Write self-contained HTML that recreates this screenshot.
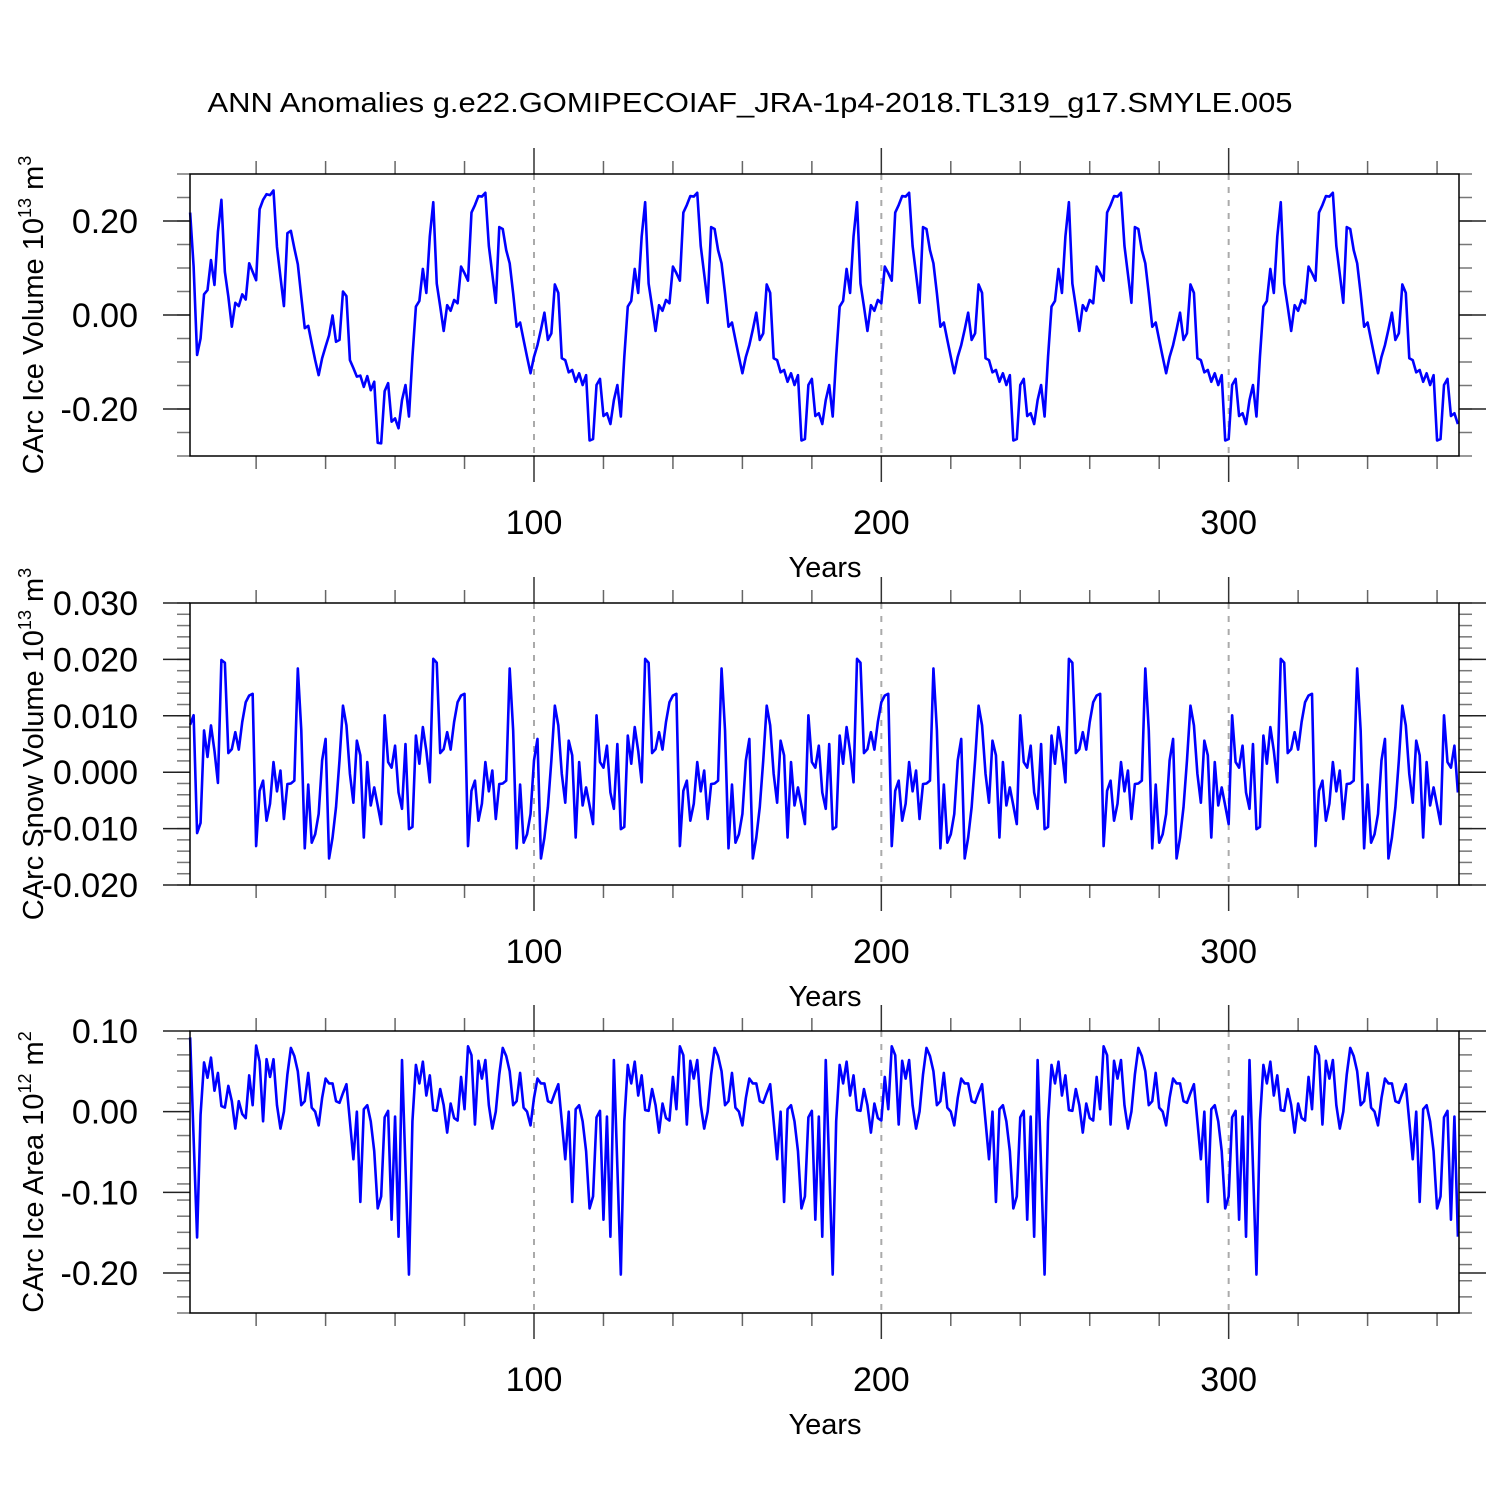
<!DOCTYPE html>
<html><head><meta charset="utf-8"><style>
html,body{margin:0;padding:0;background:#fff;}
svg{display:block;font-family:"Liberation Sans",Arial,sans-serif;}
</style></head><body>
<svg id="chart" width="1500" height="1500" viewBox="0 0 1500 1500" xmlns="http://www.w3.org/2000/svg">
<rect width="1500" height="1500" fill="#fff"/>
<text x="750" y="112" font-size="28" text-anchor="middle" textLength="1085" lengthAdjust="spacingAndGlyphs">ANN Anomalies g.e22.GOMIPECOIAF_JRA-1p4-2018.TL319_g17.SMYLE.005</text>
</svg>
<script>
const xMajorTicks = [100, 200, 300];
const xMajorLabels = ["100", "200", "300"];

const volTicks = [-0.2, 0.0, 0.2];
const volTickLabels = ["-0.20", "0.00", "0.20"];
const snowTicks = [-0.02, -0.01, 0.0, 0.01, 0.02, 0.03];
const snowTickLabels = ["-0.020", "-0.010", "0.000", "0.010", "0.020", "0.030"];
const areaTicks = [-0.2, -0.1, 0.0, 0.1];
const areaTickLabels = ["-0.20", "-0.10", "0.00", "0.10"];

const iceVolume = [
0.218,0.103,-0.085,-0.050,0.044,0.053,0.117,0.064,0.177,0.245,0.092,0.039,-0.025,0.026,0.019,0.044,0.033,0.110,0.092,0.074,0.225,0.245,0.257,0.255,0.265,0.145,0.081,0.019,0.174,0.179,0.142,0.108,0.039,-0.028,-0.023,-0.060,-0.096,-0.128,-0.092,-0.067,-0.043,-0.001,-0.057,-0.053,0.050,0.040,-0.096,-0.113,-0.131,-0.129,-0.153,-0.130,-0.160,-0.142,-0.272,-0.273,-0.162,-0.145,-0.227,-0.220,-0.241,
-0.181,-0.149,-0.216,-0.089,0.018,0.030,0.098,0.047,0.167,0.240,0.067,0.018,-0.034,0.021,0.009,0.032,0.025,0.103,0.089,0.073,0.218,0.234,0.253,0.252,0.260,0.147,0.087,0.026,0.187,0.183,0.138,0.110,0.046,-0.025,-0.016,-0.053,-0.089,-0.124,-0.089,-0.064,-0.031,0.005,-0.053,-0.039,0.065,0.047,-0.092,-0.096,-0.122,-0.117,-0.142,-0.124,-0.149,-0.128,-0.267,-0.264,-0.149,-0.136,-0.215,-0.209,-0.232,
-0.181,-0.149,-0.216,-0.089,0.018,0.030,0.098,0.047,0.167,0.240,0.067,0.018,-0.034,0.021,0.009,0.032,0.025,0.103,0.089,0.073,0.218,0.234,0.253,0.252,0.260,0.147,0.087,0.026,0.187,0.183,0.138,0.110,0.046,-0.025,-0.016,-0.053,-0.089,-0.124,-0.089,-0.064,-0.031,0.005,-0.053,-0.039,0.065,0.047,-0.092,-0.096,-0.122,-0.117,-0.142,-0.124,-0.149,-0.128,-0.267,-0.264,-0.149,-0.136,-0.215,-0.209,-0.232,
-0.181,-0.149,-0.216,-0.089,0.018,0.030,0.098,0.047,0.167,0.240,0.067,0.018,-0.034,0.021,0.009,0.032,0.025,0.103,0.089,0.073,0.218,0.234,0.253,0.252,0.260,0.147,0.087,0.026,0.187,0.183,0.138,0.110,0.046,-0.025,-0.016,-0.053,-0.089,-0.124,-0.089,-0.064,-0.031,0.005,-0.053,-0.039,0.065,0.047,-0.092,-0.096,-0.122,-0.117,-0.142,-0.124,-0.149,-0.128,-0.267,-0.264,-0.149,-0.136,-0.215,-0.209,-0.232,
-0.181,-0.149,-0.216,-0.089,0.018,0.030,0.098,0.047,0.167,0.240,0.067,0.018,-0.034,0.021,0.009,0.032,0.025,0.103,0.089,0.073,0.218,0.234,0.253,0.252,0.260,0.147,0.087,0.026,0.187,0.183,0.138,0.110,0.046,-0.025,-0.016,-0.053,-0.089,-0.124,-0.089,-0.064,-0.031,0.005,-0.053,-0.039,0.065,0.047,-0.092,-0.096,-0.122,-0.117,-0.142,-0.124,-0.149,-0.128,-0.267,-0.264,-0.149,-0.136,-0.215,-0.209,-0.232,
-0.181,-0.149,-0.216,-0.089,0.018,0.030,0.098,0.047,0.167,0.240,0.067,0.018,-0.034,0.021,0.009,0.032,0.025,0.103,0.089,0.073,0.218,0.234,0.253,0.252,0.260,0.147,0.087,0.026,0.187,0.183,0.138,0.110,0.046,-0.025,-0.016,-0.053,-0.089,-0.124,-0.089,-0.064,-0.031,0.005,-0.053,-0.039,0.065,0.047,-0.092,-0.096,-0.122,-0.117,-0.142,-0.124,-0.149,-0.128,-0.267,-0.264,-0.149,-0.136,-0.215,-0.209,-0.232
];

const snowVolume = [
0.0084,0.0101,-0.0108,-0.0090,0.0074,0.0027,0.0083,0.0038,-0.0019,0.0199,0.0194,0.0034,0.0041,0.0071,0.0040,0.0089,0.0124,0.0136,0.0139,-0.0131,-0.0033,-0.0015,-0.0086,-0.0056,0.0018,-0.0034,0.0003,-0.0083,-0.0021,-0.0020,-0.0015,0.0184,0.0074,-0.0135,-0.0022,-0.0125,-0.0110,-0.0074,0.0021,0.0059,-0.0153,-0.0116,-0.0062,0.0021,0.0118,0.0083,-0.0003,-0.0054,0.0056,0.0030,-0.0116,0.0018,-0.0059,-0.0027,-0.0059,-0.0092,0.0101,0.0018,0.0008,0.0047,-0.0036,
-0.0065,0.0050,-0.0101,-0.0097,0.0065,0.0015,0.0080,0.0038,-0.0018,0.0201,0.0194,0.0034,0.0041,0.0071,0.0040,0.0089,0.0124,0.0136,0.0139,-0.0131,-0.0033,-0.0015,-0.0086,-0.0056,0.0018,-0.0034,0.0003,-0.0083,-0.0021,-0.0020,-0.0015,0.0184,0.0074,-0.0135,-0.0022,-0.0125,-0.0110,-0.0074,0.0021,0.0059,-0.0153,-0.0116,-0.0062,0.0021,0.0118,0.0083,-0.0003,-0.0054,0.0056,0.0030,-0.0116,0.0018,-0.0059,-0.0027,-0.0059,-0.0092,0.0101,0.0018,0.0008,0.0047,-0.0036,
-0.0065,0.0050,-0.0101,-0.0097,0.0065,0.0015,0.0080,0.0038,-0.0018,0.0201,0.0194,0.0034,0.0041,0.0071,0.0040,0.0089,0.0124,0.0136,0.0139,-0.0131,-0.0033,-0.0015,-0.0086,-0.0056,0.0018,-0.0034,0.0003,-0.0083,-0.0021,-0.0020,-0.0015,0.0184,0.0074,-0.0135,-0.0022,-0.0125,-0.0110,-0.0074,0.0021,0.0059,-0.0153,-0.0116,-0.0062,0.0021,0.0118,0.0083,-0.0003,-0.0054,0.0056,0.0030,-0.0116,0.0018,-0.0059,-0.0027,-0.0059,-0.0092,0.0101,0.0018,0.0008,0.0047,-0.0036,
-0.0065,0.0050,-0.0101,-0.0097,0.0065,0.0015,0.0080,0.0038,-0.0018,0.0201,0.0194,0.0034,0.0041,0.0071,0.0040,0.0089,0.0124,0.0136,0.0139,-0.0131,-0.0033,-0.0015,-0.0086,-0.0056,0.0018,-0.0034,0.0003,-0.0083,-0.0021,-0.0020,-0.0015,0.0184,0.0074,-0.0135,-0.0022,-0.0125,-0.0110,-0.0074,0.0021,0.0059,-0.0153,-0.0116,-0.0062,0.0021,0.0118,0.0083,-0.0003,-0.0054,0.0056,0.0030,-0.0116,0.0018,-0.0059,-0.0027,-0.0059,-0.0092,0.0101,0.0018,0.0008,0.0047,-0.0036,
-0.0065,0.0050,-0.0101,-0.0097,0.0065,0.0015,0.0080,0.0038,-0.0018,0.0201,0.0194,0.0034,0.0041,0.0071,0.0040,0.0089,0.0124,0.0136,0.0139,-0.0131,-0.0033,-0.0015,-0.0086,-0.0056,0.0018,-0.0034,0.0003,-0.0083,-0.0021,-0.0020,-0.0015,0.0184,0.0074,-0.0135,-0.0022,-0.0125,-0.0110,-0.0074,0.0021,0.0059,-0.0153,-0.0116,-0.0062,0.0021,0.0118,0.0083,-0.0003,-0.0054,0.0056,0.0030,-0.0116,0.0018,-0.0059,-0.0027,-0.0059,-0.0092,0.0101,0.0018,0.0008,0.0047,-0.0036,
-0.0065,0.0050,-0.0101,-0.0097,0.0065,0.0015,0.0080,0.0038,-0.0018,0.0201,0.0194,0.0034,0.0041,0.0071,0.0040,0.0089,0.0124,0.0136,0.0139,-0.0131,-0.0033,-0.0015,-0.0086,-0.0056,0.0018,-0.0034,0.0003,-0.0083,-0.0021,-0.0020,-0.0015,0.0184,0.0074,-0.0135,-0.0022,-0.0125,-0.0110,-0.0074,0.0021,0.0059,-0.0153,-0.0116,-0.0062,0.0021,0.0118,0.0083,-0.0003,-0.0054,0.0056,0.0030,-0.0116,0.0018,-0.0059,-0.0027,-0.0059,-0.0092,0.0101,0.0018,0.0008,0.0047,-0.0036
];

const iceArea = [
0.092,-0.033,-0.156,-0.004,0.061,0.042,0.067,0.026,0.048,0.007,0.005,0.032,0.013,-0.021,0.013,-0.003,-0.008,0.045,0.008,0.082,0.062,-0.012,0.065,0.043,0.065,0.008,-0.021,0.000,0.046,0.079,0.069,0.050,0.008,0.013,0.048,0.005,0.000,-0.017,0.017,0.041,0.035,0.035,0.013,0.011,0.023,0.034,-0.012,-0.059,0.000,-0.112,0.003,0.008,-0.012,-0.049,-0.120,-0.105,-0.007,0.001,-0.134,-0.006,-0.155,
0.064,-0.069,-0.202,-0.012,0.058,0.035,0.062,0.020,0.045,0.002,0.001,0.028,0.008,-0.026,0.010,-0.008,-0.011,0.043,0.003,0.081,0.070,-0.016,0.063,0.041,0.064,0.008,-0.021,0.000,0.046,0.079,0.069,0.050,0.008,0.013,0.048,0.005,0.000,-0.017,0.017,0.041,0.035,0.035,0.013,0.011,0.023,0.034,-0.012,-0.059,0.000,-0.112,0.003,0.008,-0.012,-0.049,-0.120,-0.105,-0.007,0.001,-0.134,-0.006,-0.155,
0.064,-0.069,-0.202,-0.012,0.058,0.035,0.062,0.020,0.045,0.002,0.001,0.028,0.008,-0.026,0.010,-0.008,-0.011,0.043,0.003,0.081,0.070,-0.016,0.063,0.041,0.064,0.008,-0.021,0.000,0.046,0.079,0.069,0.050,0.008,0.013,0.048,0.005,0.000,-0.017,0.017,0.041,0.035,0.035,0.013,0.011,0.023,0.034,-0.012,-0.059,0.000,-0.112,0.003,0.008,-0.012,-0.049,-0.120,-0.105,-0.007,0.001,-0.134,-0.006,-0.155,
0.064,-0.069,-0.202,-0.012,0.058,0.035,0.062,0.020,0.045,0.002,0.001,0.028,0.008,-0.026,0.010,-0.008,-0.011,0.043,0.003,0.081,0.070,-0.016,0.063,0.041,0.064,0.008,-0.021,0.000,0.046,0.079,0.069,0.050,0.008,0.013,0.048,0.005,0.000,-0.017,0.017,0.041,0.035,0.035,0.013,0.011,0.023,0.034,-0.012,-0.059,0.000,-0.112,0.003,0.008,-0.012,-0.049,-0.120,-0.105,-0.007,0.001,-0.134,-0.006,-0.155,
0.064,-0.069,-0.202,-0.012,0.058,0.035,0.062,0.020,0.045,0.002,0.001,0.028,0.008,-0.026,0.010,-0.008,-0.011,0.043,0.003,0.081,0.070,-0.016,0.063,0.041,0.064,0.008,-0.021,0.000,0.046,0.079,0.069,0.050,0.008,0.013,0.048,0.005,0.000,-0.017,0.017,0.041,0.035,0.035,0.013,0.011,0.023,0.034,-0.012,-0.059,0.000,-0.112,0.003,0.008,-0.012,-0.049,-0.120,-0.105,-0.007,0.001,-0.134,-0.006,-0.155,
0.064,-0.069,-0.202,-0.012,0.058,0.035,0.062,0.020,0.045,0.002,0.001,0.028,0.008,-0.026,0.010,-0.008,-0.011,0.043,0.003,0.081,0.070,-0.016,0.063,0.041,0.064,0.008,-0.021,0.000,0.046,0.079,0.069,0.050,0.008,0.013,0.048,0.005,0.000,-0.017,0.017,0.041,0.035,0.035,0.013,0.011,0.023,0.034,-0.012,-0.059,0.000,-0.112,0.003,0.008,-0.012,-0.049,-0.120,-0.105,-0.007,0.001,-0.134,-0.006,-0.155
];

const NS = "http://www.w3.org/2000/svg";
const svg = document.getElementById("chart");
const L = 190, R = 1459;
function xScale(year) { return 534 + (year - 100) * 3.4733; }

function mk(tag, attrs, parent) {
  const e = document.createElementNS(NS, tag);
  for (const k in attrs) e.setAttribute(k, attrs[k]);
  parent.appendChild(e);
  return e;
}

function drawPanel(cfg) {
  const g = mk("g", {}, svg);
  
  
  const top = cfg.top, bot = cfg.top + 282;
  const yScale = v => top + (cfg.yMax - v) / (cfg.yMax - cfg.yMin) * (bot - top);

  xMajorTicks.forEach(t => {
    const l = mk("line", {x1: xScale(t), x2: xScale(t), y1: top, y2: bot, stroke: "#aaa", "stroke-width": 2, "stroke-dasharray": "6,7"}, g);
    
    
  });

  for (let yr = 20; yr <= 360; yr += 20) {
    if (yr % 100 === 0) continue;
    const x = xScale(yr);
    mk("line", {x1: x, x2: x, y1: top, y2: top - 13, stroke: "#666", "stroke-width": 1.5}, g);
    mk("line", {x1: x, x2: x, y1: bot, y2: bot + 13, stroke: "#666", "stroke-width": 1.5}, g);
  }
  xMajorTicks.forEach((t, i) => {
    const x = xScale(t);
    mk("line", {x1: x, x2: x, y1: top, y2: top - 26, stroke: "#333", "stroke-width": 1.5}, g);
    mk("line", {x1: x, x2: x, y1: bot, y2: bot + 26, stroke: "#333", "stroke-width": 1.5}, g);
    const tx = mk("text", {x: x, y: bot + 78, "font-size": 34, "text-anchor": "middle"}, g);
    tx.textContent = xMajorLabels[i];
    
    
  });
  const xt = mk("text", {x: 825, y: bot + 121, "font-size": 29, "text-anchor": "middle"}, g);
  xt.textContent = "Years";
  
  

  const nMinor = Math.round((cfg.yMax - cfg.yMin) / cfg.minor);
  for (let i = 0; i <= nMinor; i++) {
    const y = yScale(cfg.yMin + i * cfg.minor);
    mk("line", {x1: L, x2: L - 13, y1: y, y2: y, stroke: "#777", "stroke-width": 1.5}, g);
    mk("line", {x1: R, x2: R + 13, y1: y, y2: y, stroke: "#777", "stroke-width": 1.5}, g);
  }
  cfg.ticks.forEach((t, i) => {
    const y = yScale(t);
    mk("line", {x1: L, x2: L - 27, y1: y, y2: y, stroke: "#222", "stroke-width": 1.5}, g);
    mk("line", {x1: R, x2: R + 27, y1: y, y2: y, stroke: "#222", "stroke-width": 1.5}, g);
    const tx = mk("text", {x: 138, y: y + 12, "font-size": 34, "text-anchor": "end"}, g);
    tx.textContent = cfg.tickLabels[i];
    
    
  });

  let d = "";
  cfg.data.forEach((v, i) => {
    d += (i ? "L" : "M") + xScale(i + 1).toFixed(2) + "," + yScale(v).toFixed(2);
  });
  const p = mk("path", {d: d, fill: "none", stroke: "#0000ff", "stroke-width": 2.6, "stroke-linejoin": "round"}, g);
  
  

  const fr = mk("rect", {x: L, y: top, width: R - L, height: bot - top, fill: "none", stroke: "#000", "stroke-width": 1.5}, g);
  
  

  const cy = (top + bot) / 2;
  const yt = mk("text", {x: 0, y: 0, "font-size": 29, "text-anchor": "middle", transform: "translate(43," + cy + ") rotate(-90)"}, g);
  
  
  const t1 = mk("tspan", {}, yt); t1.textContent = cfg.title + " 10";
  const t2 = mk("tspan", {dy: -12, "font-size": 18}, yt); t2.textContent = cfg.exp;
  const t3 = mk("tspan", {dy: 12}, yt); t3.textContent = " m";
  const t4 = mk("tspan", {dy: -12, "font-size": 18}, yt); t4.textContent = cfg.unitExp;
}

drawPanel({name: "ice-volume", top: 174, yMin: -0.3, yMax: 0.3, minor: 0.05, ticks: volTicks, tickLabels: volTickLabels, data: iceVolume, title: "CArc Ice Volume", exp: "13", unitExp: "3"});
drawPanel({name: "snow-volume", top: 603, yMin: -0.02, yMax: 0.03, minor: 0.002, ticks: snowTicks, tickLabels: snowTickLabels, data: snowVolume, title: "CArc Snow Volume", exp: "13", unitExp: "3"});
drawPanel({name: "ice-area", top: 1031, yMin: -0.2496, yMax: 0.1, minor: 0.02, ticks: areaTicks, tickLabels: areaTickLabels, data: iceArea, title: "CArc Ice Area", exp: "12", unitExp: "2"});
</script>
</body></html>
